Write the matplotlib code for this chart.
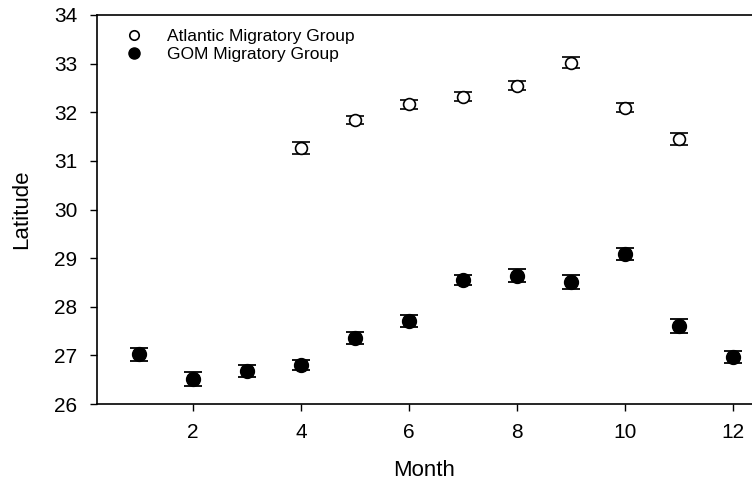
import numpy as np
import matplotlib
matplotlib.use("Agg")
import matplotlib.pyplot as plt

plt.rcParams['font.family'] = ['Liberation Sans', 'DejaVu Sans']

# Atlantic group only observed Apr-Nov
atl_month = [4, 5, 6, 7, 8, 9, 10, 11]
atl_lat = [31.26, 31.84, 32.16, 32.32, 32.55, 33.02, 32.09, 31.45]
atl_err = [0.12, 0.08, 0.09, 0.09, 0.09, 0.11, 0.09, 0.12]

gom_month = [1, 2, 3, 4, 5, 6, 7, 8, 9, 10, 11, 12]
gom_lat = [27.02, 26.51, 26.68, 26.80, 27.36, 27.71, 28.55, 28.64, 28.51, 29.08, 27.61, 26.97]
gom_err = [0.13, 0.14, 0.12, 0.11, 0.12, 0.12, 0.11, 0.13, 0.14, 0.12, 0.14, 0.12]

x_ticks = [2, 4, 6, 8, 10, 12]
y_ticks = [26, 27, 28, 29, 30, 31, 32, 33, 34]

fig = plt.figure(figsize=(7.52, 4.82), dpi=100)
ax = fig.add_axes([97 / 752, 1 - 404 / 482, 1 - 97 / 752, (404 - 15) / 482])

ax.errorbar(atl_month, atl_lat, yerr=atl_err, fmt='o', mfc='white', mec='black',
            mew=1.2, ms=8.5, ecolor='black', elinewidth=1, capsize=6.5, capthick=1.3,
            label='Atlantic Migratory Group', zorder=3)
ax.errorbar(gom_month, gom_lat, yerr=gom_err, fmt='o', mfc='black', mec='black',
            ms=10, ecolor='black', elinewidth=1, capsize=6.5, capthick=1.3,
            label='GOM Migratory Group', zorder=3)

ax.set_xlim(0.22, 12.35)
ax.set_ylim(26, 34)
ax.set_xticks(x_ticks)
ax.set_yticks(y_ticks)
ax.spines['right'].set_visible(False)
for s in ['left', 'bottom', 'top']:
    ax.spines[s].set_linewidth(1.2)
ax.tick_params(direction='out', length=5, width=1, labelsize=15)
ax.tick_params(axis='y', pad=9)
ax.tick_params(axis='x', pad=9)

ax.set_xlabel('Month', fontsize=16, labelpad=13)
ax.set_ylabel('Latitude', fontsize=16, labelpad=16)

handles, labels = ax.get_legend_handles_labels()
handles = [h[0] for h in handles]
ax.legend(handles, labels, loc='upper left', bbox_to_anchor=(0.027, 0.99),
          frameon=False, fontsize=12.5, handlelength=1.0, handletextpad=1.4,
          labelspacing=0.15, borderaxespad=0.2, markerscale=0.8)

fig.savefig('out.png', dpi=100)
